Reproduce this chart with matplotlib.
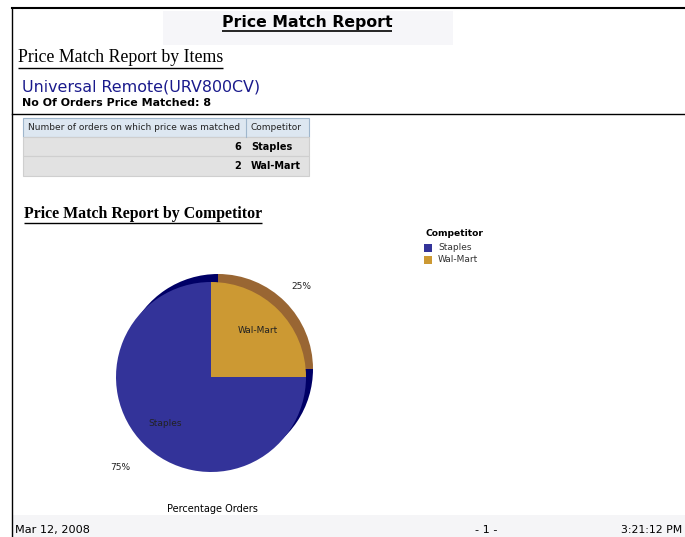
import matplotlib.pyplot as plt
from matplotlib.patches import Rectangle

# data
competitors = ["Staples", "Wal-Mart"]
orders = [6, 2]
face_colors = ["#333399", "#CC9933"]
edge_colors = ["#000066", "#996633"]
item_name = "Universal Remote(URV800CV)"
total_orders = sum(orders)
col_headers = ["Number of orders on which price was matched", "Competitor"]
report_date = "Mar 12, 2008"
report_time = "3:21:12 PM"
page_label = "- 1 -"

W, H = 685, 537
fig = plt.figure(figsize=(W / 100, H / 100), dpi=100)
fig.patch.set_facecolor("white")

# full-figure axes working in pixel units (y downwards)
ax = fig.add_axes([0, 0, 1, 1])
ax.set_xlim(0, W)
ax.set_ylim(H, 0)
ax.axis("off")

sans = "DejaVu Sans"
serif = "Liberation Serif"


def underline(t, lw=1.0):
    fig.canvas.draw()
    bb = t.get_window_extent()
    x0, x1 = bb.x0, bb.x1
    y = H - bb.y0 + 1
    ax.plot([x0, x1], [y, y], color="black", lw=lw, solid_capstyle="butt")


# page frame and background boxes
ax.plot([12, 12], [8, H], color="black", lw=1)
ax.plot([12, W], [8, 8], color="black", lw=1.5)
ax.add_patch(Rectangle((163, 11), 290, 34, color="#f6f6f9", lw=0))
ax.add_patch(Rectangle((12, 515), W - 12, H - 515, color="#f5f5f7", lw=0))

# headings
t = ax.text(307, 22, "Price Match Report", fontsize=11.3, fontweight="bold",
            family=sans, ha="center", va="center")
underline(t, 1.2)
t = ax.text(18, 58, "Price Match Report by Items", fontsize=12.8, family=serif,
            ha="left", va="center")
underline(t)
ax.text(22, 87, item_name, fontsize=11.4, color="#1a1a8c", family=sans,
        ha="left", va="center")
ax.text(22, 103, "No Of Orders Price Matched: %d" % total_orders, fontsize=7.9,
        fontweight="bold", family=sans, ha="left", va="center")
ax.plot([12, W], [114, 114], color="black", lw=1)

# table
x0, xm, x1 = 23, 246, 309
rows_y = [118, 137, 156, 176]
ax.add_patch(Rectangle((x0, rows_y[0]), x1 - x0, rows_y[1] - rows_y[0],
                       facecolor="#dde7f1", edgecolor="#9fb6cc", lw=0.8))
ax.plot([xm, xm], [rows_y[0], rows_y[1]], color="#9fb6cc", lw=0.8)
ax.text(x0 + 5, 128, col_headers[0], fontsize=6.5, family=sans, ha="left", va="center", color="#222")
ax.text(xm + 5, 128, col_headers[1], fontsize=6.5, family=sans, ha="left", va="center", color="#222")
for i, (c, n) in enumerate(zip(competitors, orders)):
    top, bot = rows_y[i + 1], rows_y[i + 2]
    ax.add_patch(Rectangle((x0, top), x1 - x0, bot - top, facecolor="#e2e2e2",
                           edgecolor="#cfcfcf", lw=0.8))
    ymid = (top + bot) / 2
    ax.text(xm - 5, ymid, str(n), fontsize=7, fontweight="bold", family=sans,
            ha="right", va="center")
    ax.text(xm + 5, ymid, c, fontsize=7, fontweight="bold", family=sans,
            ha="left", va="center")

t = ax.text(24, 214, "Price Match Report by Competitor", fontsize=11.4,
            fontweight="bold", family=serif, ha="left", va="center")
underline(t)

# legend
ax.text(426, 234, "Competitor", fontsize=6.6, fontweight="bold", family=sans,
        ha="left", va="center")
for i, (c, col) in enumerate(zip(competitors, face_colors)):
    y = 248 + i * 12
    ax.add_patch(Rectangle((424, y - 4), 8, 8, color=col, lw=0))
    ax.text(438, y, c, fontsize=6.5, family=sans, ha="left", va="center", color="#333")

ax.text(212, 509, "Percentage Orders", fontsize=7, family=sans, ha="center", va="center")

# footer
ax.text(15, 530, report_date, fontsize=8.1, family=sans, ha="left", va="center")
ax.text(486, 530, page_label, fontsize=8.1, family=sans, ha="center", va="center")
ax.text(682, 530, report_time, fontsize=7.8, family=sans, ha="right", va="center")

# pie (axes in pixel units, centred at (211, 377))
cx, cy, r, pad = 211, 377, 95, 115
pax = fig.add_axes([(cx - pad) / W, (H - cy - pad) / H, 2 * pad / W, 2 * pad / H])

# darker back layer for the depth effect
pax.pie(orders, colors=edge_colors, startangle=90, counterclock=True,
        radius=r, center=(7, 8), frame=True,
        wedgeprops=dict(linewidth=0))
wedges, texts, autotexts = pax.pie(
    orders, labels=competitors, colors=face_colors, startangle=90,
    counterclock=True, radius=r, center=(0, 0), frame=True,
    autopct="%.0f%%", pctdistance=1.35, labeldistance=0.69,
    wedgeprops=dict(linewidth=0))
pax.set_xlim(-pad, pad)
pax.set_ylim(-pad, pad)
pax.set_aspect("equal")
pax.axis("off")
for tt in texts + autotexts:
    tt.set_fontsize(6.5)
    tt.set_family(sans)
    tt.set_ha("center")
    tt.set_va("center")
    tt.set_color("#222")

fig.savefig("out.png", dpi=100)
